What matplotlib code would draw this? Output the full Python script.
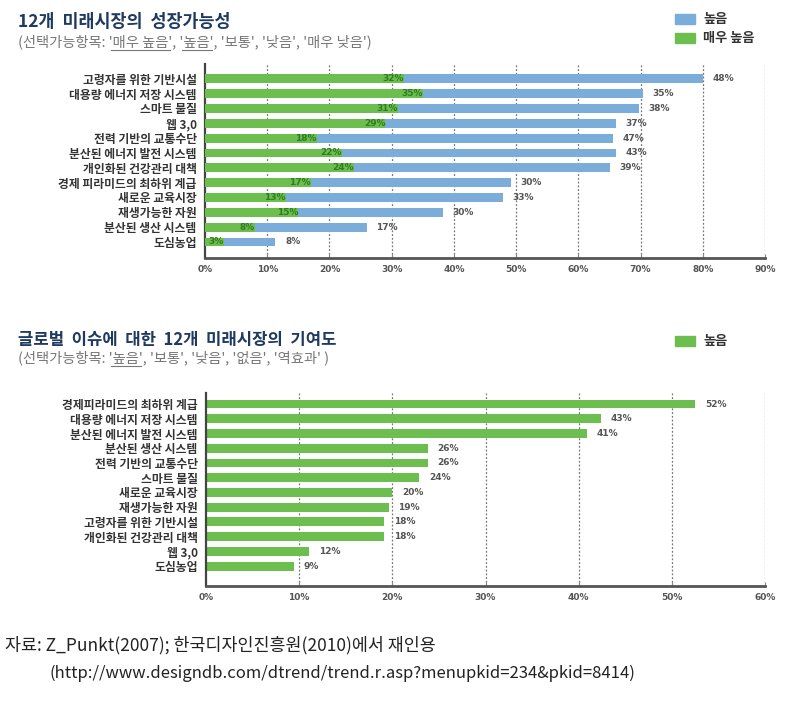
import matplotlib
matplotlib.use("Agg")
import matplotlib.pyplot as plt
from matplotlib.lines import Line2D
from matplotlib.patches import Rectangle

plt.rcParams['font.family'] = ['Noto Sans CJK KR', 'DejaVu Sans']

# --- top chart data ---
top_cats = ["고령자를 위한 기반시설", "대용량 에너지 저장 시스템", "스마트 물질", "웹 3,0",
            "전력 기반의 교통수단", "분산된 에너지 발전 시스템", "개인화된 건강관리 대책",
            "경제 피라미드의 최하위 계급", "새로운 교육시장", "재생가능한 자원",
            "분산된 생산 시스템", "도심농업"]
very_high = [32, 35, 31, 29, 18, 22, 24, 17, 13, 15, 8, 3]
high_total = [80, 70.4, 69.7, 66, 65.5, 66, 65.1, 49.2, 47.9, 38.2, 26, 11.3]
high_labels = ["48%", "35%", "38%", "37%", "47%", "43%", "39%", "30%", "33%", "30%", "17%", "8%"]

# --- bottom chart data ---
bot_cats = ["경제피라미드의 최하위 계급", "대용량 에너지 저장 시스템", "분산된 에너지 발전 시스템",
            "분산된 생산 시스템", "전력 기반의 교통수단", "스마트 물질", "새로운 교육시장",
            "재생가능한 자원", "고령자를 위한 기반시설", "개인화된 건강관리 대책", "웹 3,0", "도심농업"]
bot_vals = [52.5, 42.4, 40.9, 23.8, 23.8, 22.9, 20, 19.6, 19.1, 19.1, 11.1, 9.4]
bot_labels = ["52%", "43%", "41%", "26%", "26%", "24%", "20%", "19%", "18%", "18%", "12%", "9%"]

BLUE = "#7badda"
GREEN = "#6cbf4e"
DKGREEN = "#2f7d22"
NAVY = "#1f3a60"
TXT = "#333333"
W, H = 791, 707

fig = plt.figure(figsize=(W / 100, H / 100), dpi=100)


def fx(px):
    return px / W


def fy(py):
    return 1 - py / H


def style_axis(ax, xmax):
    ax.set_xlim(0, xmax)
    for s in ["top", "right"]:
        ax.spines[s].set_visible(False)
    ax.spines["left"].set_color("#444444")
    ax.spines["left"].set_linewidth(1.6)
    ax.spines["bottom"].set_color("#555555")
    ax.spines["bottom"].set_linewidth(2)
    ticks = list(range(0, xmax + 1, 10))
    ax.set_xticks(ticks)
    ax.set_xticklabels([f"{t}%" for t in ticks], fontsize=6.5, color="#555555",
                       fontweight="bold", family=["DejaVu Sans"])
    ax.tick_params(axis="x", length=3, width=0.8, color="#888888", pad=5, direction="in")
    ax.tick_params(axis="y", length=0, pad=6)
    for t in ticks[1:]:
        ax.axvline(t, color="#777777", lw=0.9, ls=(0, (1.5, 1.5)), zorder=0)


# top chart
ax1 = fig.add_axes([fx(205), fy(258), fx(765) - fx(205), fy(64) - fy(258)])
y1 = list(range(len(top_cats)))
ax1.barh(y1, high_total, height=0.6, color=BLUE, zorder=2)
ax1.barh(y1, very_high, height=0.6, color=GREEN, zorder=3)
ax1.set_ylim(12.08, -1.0)
style_axis(ax1, 90)
ax1.set_yticks(y1)
ax1.set_yticklabels(top_cats, fontsize=8.5, color=TXT, fontweight="bold")
for i in y1:
    ax1.annotate(high_labels[i], (high_total[i], i), xytext=(7, 0), textcoords="offset points",
                 va="center", ha="left", fontsize=6.5, color="#555555", fontweight="bold",
                 family=["DejaVu Sans"], zorder=4)
    ax1.annotate(f"{very_high[i]}%", (very_high[i], i), xytext=(0, 0), textcoords="offset points",
                 va="center", ha="right", fontsize=6.5, color=DKGREEN, fontweight="bold",
                 family=["DejaVu Sans"], zorder=4)

# bottom chart
ax2 = fig.add_axes([fx(206), fy(586), fx(765) - fx(206), fy(393) - fy(586)])
y2 = list(range(len(bot_cats)))
ax2.barh(y2, bot_vals, height=0.6, color=GREEN, zorder=2)
ax2.set_ylim(12.35, -0.75)
style_axis(ax2, 60)
ax2.set_yticks(y2)
ax2.set_yticklabels(bot_cats, fontsize=8.5, color=TXT, fontweight="bold")
for i in y2:
    ax2.annotate(bot_labels[i], (bot_vals[i], i), xytext=(7, 0), textcoords="offset points",
                 va="center", ha="left", fontsize=6.5, color="#555555", fontweight="bold",
                 family=["DejaVu Sans"], zorder=4)


def subtitle(x, y, text, underline, size=10.3):
    t = fig.text(fx(x), fy(y), text, fontsize=size, color="#777777", va="center", ha="left")
    fig.canvas.draw()
    r = fig.canvas.get_renderer()
    for part in underline:
        start = text.index(part)
        tmp = fig.text(0, 0, text[:start], fontsize=size)
        w0 = tmp.get_window_extent(r).width if start else 0
        tmp.set_text(text[:start + len(part)])
        w1 = tmp.get_window_extent(r).width
        tmp.remove()
        yy = fy(y + 8)
        fig.add_artist(Line2D([fx(x + w0 + 2), fx(x + w1 - 2)], [yy, yy], color="#777777", lw=0.8))
    return t


fig.text(fx(18), fy(22), "12개  미래시장의  성장가능성", fontsize=12.5, fontweight="bold",
         color=NAVY, va="center")
subtitle(18, 42, "(선택가능항목: '매우 높음', '높음', '보통', '낮음', '매우 낮음')",
         ["'매우 높음'", "'높음'"])
fig.text(fx(18), fy(340), "글로벌  이슈에  대한  12개  미래시장의  기여도", fontsize=12,
         fontweight="bold", color=NAVY, va="center")
subtitle(18, 358, "(선택가능항목: '높음', '보통', '낮음', '없음', '역효과' )", ["'높음'"])


# legends
def legend_item(x, y, color, label):
    fig.add_artist(Rectangle((fx(x), fy(y + 5)), fx(20), 10 / H, color=color, transform=fig.transFigure))
    fig.text(fx(x + 28), fy(y), label, fontsize=9.5, fontweight="bold", color=TXT, va="center")


legend_item(675, 19, BLUE, "높음")
legend_item(675, 38, GREEN, "매우 높음")
legend_item(675, 341, GREEN, "높음")

# source note
fig.text(fx(5), fy(645), "자료: Z_Punkt(2007); 한국디자인진흥원(2010)에서 재인용",
         fontsize=12.5, color="#222222", va="center")
fig.text(fx(50), fy(673), "(http://www.designdb.com/dtrend/trend.r.asp?menupkid=234&pkid=8414)",
         fontsize=12, color="#222222", va="center")

fig.savefig("out.png", dpi=100)
